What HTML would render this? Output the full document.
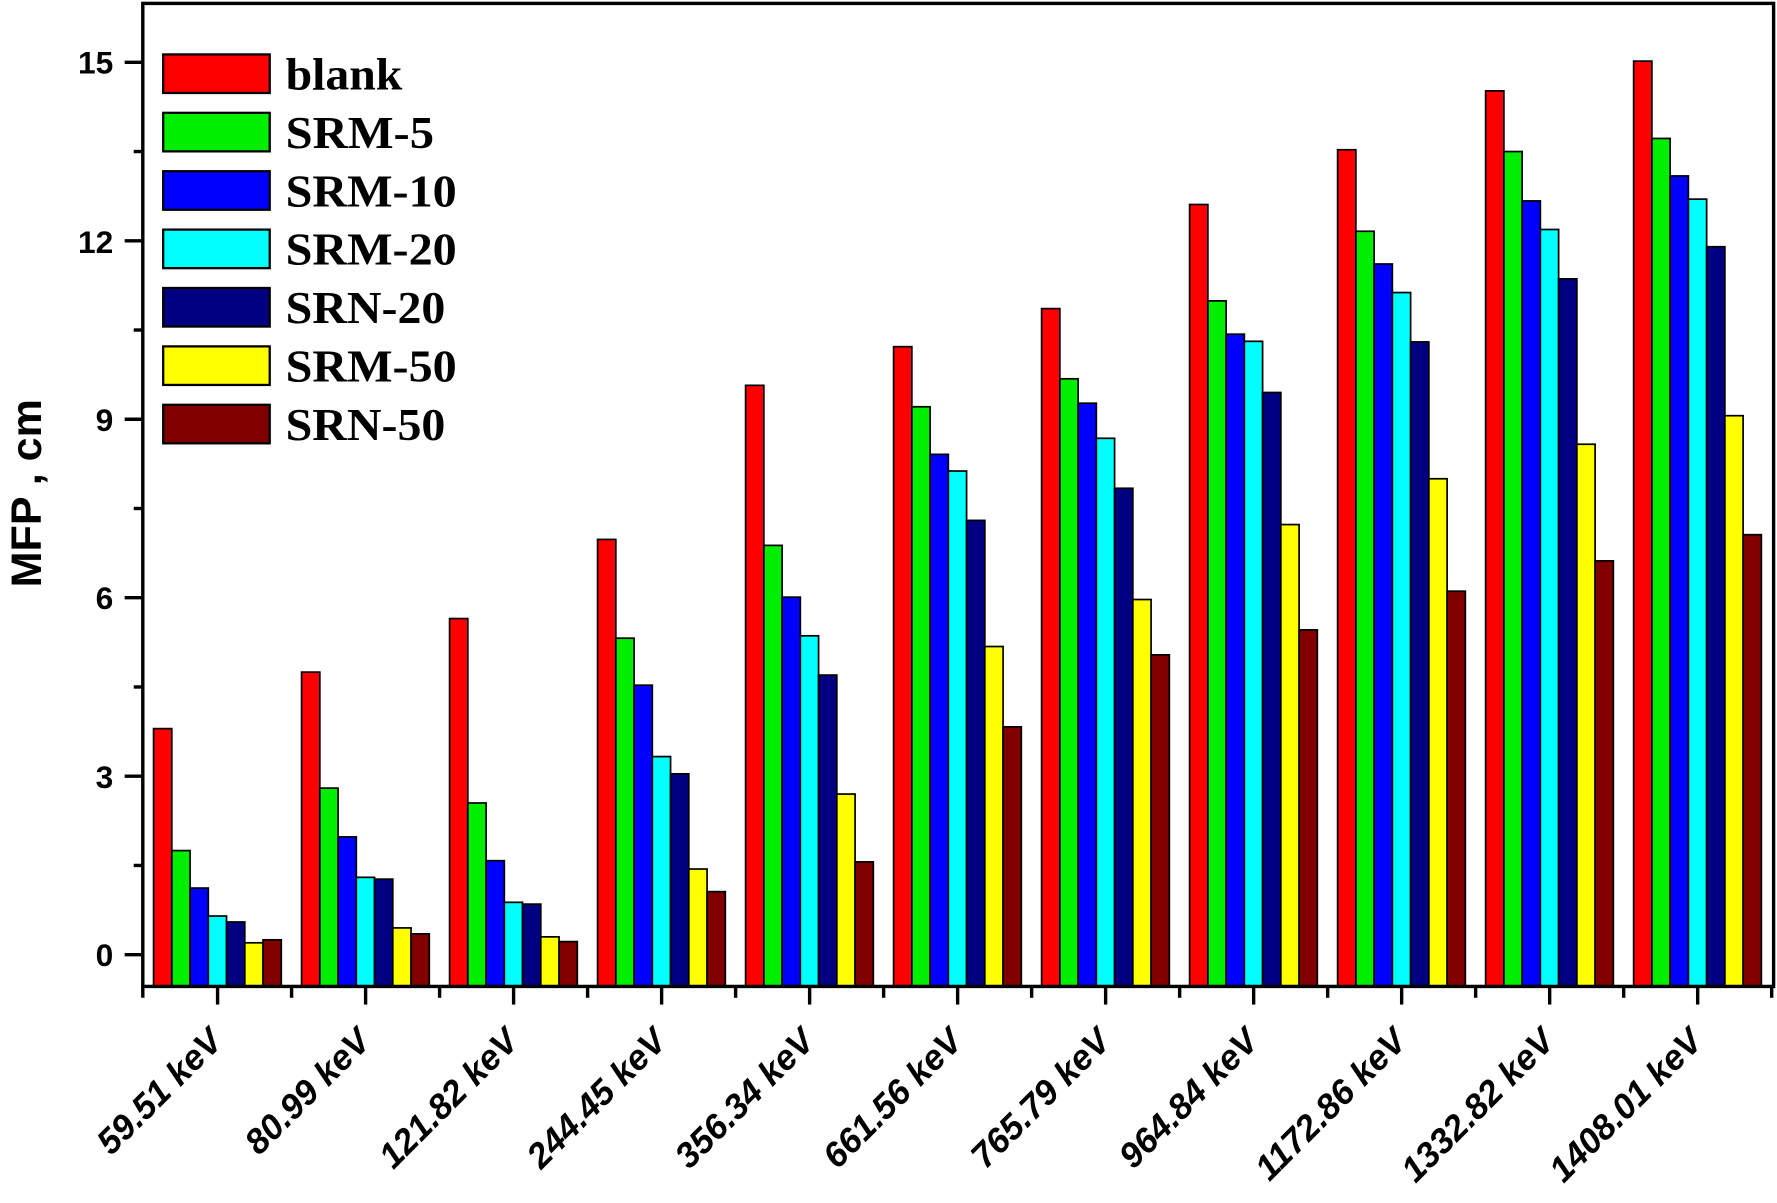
<!DOCTYPE html>
<html><head><meta charset="utf-8"><style>html,body{margin:0;padding:0;background:#fff}svg{display:block}</style></head>
<body>
<svg width="1777" height="1203" viewBox="0 0 1568 1061" preserveAspectRatio="none" xmlns="http://www.w3.org/2000/svg">
<rect width="1568" height="1061" fill="#fff"/>
<g id="bars" stroke="#000" stroke-width="1.5"></g>
<g stroke="#000" stroke-width="3" fill="none">
<rect x="126" y="3" width="1439" height="867"/>
</g>
<g id="ticks" stroke="#000" stroke-width="3"></g>
<g font-family="Liberation Sans, sans-serif" font-weight="bold" font-size="28" text-anchor="end" fill="#000">
<text x="100" y="65">15</text><text x="100" y="223">12</text><text x="100" y="380">9</text>
<text x="100" y="537">6</text><text x="100" y="695">3</text><text x="100" y="852">0</text>
</g>
<text transform="translate(36,435) rotate(-90)" font-family="Liberation Sans, sans-serif" font-weight="bold" font-size="38" text-anchor="middle">MFP , cm</text>
<g id="xl" font-family="Liberation Sans, sans-serif" font-weight="bold" font-style="italic" font-size="31" text-anchor="end"></g>
<g id="leg" font-family="Liberation Serif, serif" font-weight="bold" font-size="40"></g>
<script>
var C=["#ff0000","#00ee00","#0000ff","#00ffff","#000080","#ffff00","#800000"];
var N=["blank","SRM-5","SRM-10","SRM-20","SRN-20","SRM-50","SRN-50"];
var W=[103,131,151,151,141,151,141];
var D=[[3.8,1.75,1.12,0.65,0.55,0.2,0.25],[4.75,2.8,1.98,1.3,1.27,0.45,0.35],[5.65,2.55,1.58,0.88,0.85,0.3,0.22],[6.98,5.32,4.53,3.33,3.04,1.44,1.06],[9.57,6.88,6.01,5.36,4.7,2.7,1.56],[10.22,9.21,8.41,8.13,7.3,5.18,3.83],[10.86,9.68,9.27,8.68,7.84,5.97,5.04],[12.61,10.99,10.43,10.31,9.45,7.23,5.46],[13.53,12.16,11.61,11.13,10.3,8.0,6.11],[14.52,13.5,12.67,12.19,11.36,8.58,6.62],[15.02,13.72,13.09,12.7,11.9,9.06,7.06]];
var L=["59.51 keV","80.99 keV","121.82 keV","244.45 keV","356.34 keV","661.56 keV","765.79 keV","964.84 keV","1172.86 keV","1332.82 keV","1408.01 keV"];
var ns="http://www.w3.org/2000/svg";
function el(p,t,a,txt){var e=document.createElementNS(ns,t);for(var k in a)e.setAttribute(k,a[k]);if(txt)e.textContent=txt;p.appendChild(e);return e;}
var b=document.getElementById("bars"),tk=document.getElementById("ticks"),xl=document.getElementById("xl"),lg=document.getElementById("leg");
var bw=16.1;
D.forEach(function(g,i){var c=192+130.6*i;g.forEach(function(v,j){var y=842-v*52.47;el(b,"rect",{x:c-56.5+j*bw,y:y,width:bw,height:870-y,fill:C[j]});});
el(tk,"line",{x1:c,y1:870,x2:c,y2:886});el(tk,"line",{x1:c+65.3,y1:870,x2:c+65.3,y2:880});
el(xl,"text",{transform:"translate("+(c+6)+",920) rotate(-45)"},L[i]);});
el(tk,"line",{x1:126,y1:870,x2:126,y2:880});
for(var k=0;k<=10;k++){var y=842-k*1.5*52.47;el(tk,"line",{x1:126,y1:y,x2:k%2?118:110,y2:y});}
N.forEach(function(n,j){var y=48+j*51.5;el(lg,"rect",{x:144,y:y,width:94,height:34,fill:C[j],stroke:"#000","stroke-width":2});el(lg,"text",{x:252,y:y+31,textLength:W[j],lengthAdjust:"spacingAndGlyphs"},n);});
</script>
</svg>
</body></html>
